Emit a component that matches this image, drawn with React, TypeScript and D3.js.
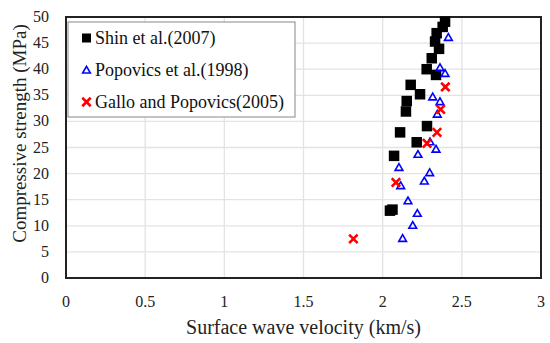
import React from "react";
import * as d3 from "d3";

// Shin et al.(2007): [velocity km/s, strength MPa]
const shin: [number, number][] = [
  [2.394, 49.1], [2.379, 48.1], [2.341, 46.9], [2.331, 45.3], [2.356, 43.9],
  [2.31, 42.1], [2.278, 40.0], [2.337, 38.9], [2.177, 37.0], [2.236, 35.2],
  [2.152, 33.9], [2.147, 31.9], [2.28, 29.1], [2.11, 27.9], [2.215, 26.0],
  [2.072, 23.4], [2.046, 12.9], [2.062, 13.1],
];
const popovics: [number, number][] = [
  [2.415, 46.1], [2.362, 40.3], [2.394, 39.2], [2.316, 34.7], [2.362, 33.8],
  [2.345, 31.4], [2.299, 26.1], [2.337, 24.7], [2.223, 23.7], [2.103, 21.2],
  [2.297, 20.2], [2.263, 18.6], [2.114, 17.7], [2.16, 14.8], [2.219, 12.4],
  [2.19, 10.1], [2.126, 7.6],
];
const gallo: [number, number][] = [
  [2.396, 36.6], [2.366, 32.3], [2.343, 27.9], [2.28, 25.8], [2.084, 18.3],
  [1.815, 7.5],
];
const xTicks = [0, 0.5, 1, 1.5, 2, 2.5, 3];
const yTicks = [0, 5, 10, 15, 20, 25, 30, 35, 40, 45, 50];
const legendNames = ["Shin et al.(2007)", "Popovics et al.(1998)", "Gallo and Popovics(2005)"];

const W = 550, H = 343;
const left = 66, right = 541, top = 17, bottom = 278;
const font = '"Liberation Serif"';

export default function App() {
  const x = d3.scaleLinear().domain([0, 3]).range([left, right]);
  const y = d3.scaleLinear().domain([0, 50]).range([bottom, top]);
  const tri = d3.symbol().type(d3.symbolTriangle).size(26)() as string;
  const cross = d3.symbol().type(d3.symbolX).size(30)() as string;

  const square = (cx: number, cy: number, key: string | number, s = 10.5) => (
    <rect key={key} x={cx - s / 2} y={cy - s / 2} width={s} height={s} fill="#000" />
  );
  const triangle = (cx: number, cy: number, key: string | number) => (
    <path key={key} d={tri} transform={`translate(${cx},${cy + 0.8})`} fill="none" stroke="#0000ff" strokeWidth={1.6} />
  );
  const xmark = (cx: number, cy: number, key: string | number) => (
    <path key={key} d={cross} transform={`translate(${cx},${cy})`} fill="#ff0000" stroke="#ff0000" strokeWidth={2.6} strokeLinecap="square" />
  );

  return (
    <svg width={W} height={H} style={{ position: "absolute", left: 0, top: 0, background: "#fff" }}>
      <rect width={W} height={H} fill="#fff" />
      {xTicks.map((t) => (
        <line key={"gx" + t} x1={x(t)} x2={x(t)} y1={top} y2={bottom} stroke="#e3e3e3" strokeWidth={1.3} />
      ))}
      {yTicks.map((t) => (
        <line key={"gy" + t} x1={left} x2={right} y1={y(t)} y2={y(t)} stroke="#e3e3e3" strokeWidth={1.3} />
      ))}
      <rect x={left} y={top} width={right - left} height={bottom - top} fill="none" stroke="#222" strokeWidth={2} />

      {shin.map((d, i) => square(x(d[0]), y(d[1]), "s" + i))}
      {popovics.map((d, i) => triangle(x(d[0]), y(d[1]), "p" + i))}
      {gallo.map((d, i) => xmark(x(d[0]), y(d[1]), "g" + i))}

      {xTicks.map((t) => (
        <text key={"tx" + t} x={x(t)} y={307} textAnchor="middle" fontSize={16} fill="#222" style={{ fontFamily: font }}>{t}</text>
      ))}
      {yTicks.map((t) => (
        <text key={"ty" + t} x={49} y={y(t) + 5} textAnchor="end" fontSize={16} fill="#222" style={{ fontFamily: font }}>{t}</text>
      ))}
      <text x={(left + right) / 2} y={334} textAnchor="middle" fontSize={20} fill="#222" style={{ fontFamily: font }}>
        Surface wave velocity (km/s)
      </text>
      <text transform={`translate(26,${(top + bottom) / 2 - 14}) rotate(-90)`} textAnchor="middle" fontSize={19} fill="#222" style={{ fontFamily: font }}>
        Compressive strength (MPa)
      </text>

      <rect x={68} y={22} width={227} height={95} fill="#fff" stroke="#888" strokeWidth={1} />
      {legendNames.map((n, i) => {
        const ly = 38 + i * 32;
        return (
          <g key={n}>
            {i === 0 && square(86.5, ly, "l0", 9)}
            {i === 1 && triangle(86.5, ly, "l1")}
            {i === 2 && xmark(86.5, ly, "l2")}
            <text x={95} y={ly + 6} fontSize={18} fill="#111" style={{ fontFamily: font }}>{n}</text>
          </g>
        );
      })}
    </svg>
  );
}
